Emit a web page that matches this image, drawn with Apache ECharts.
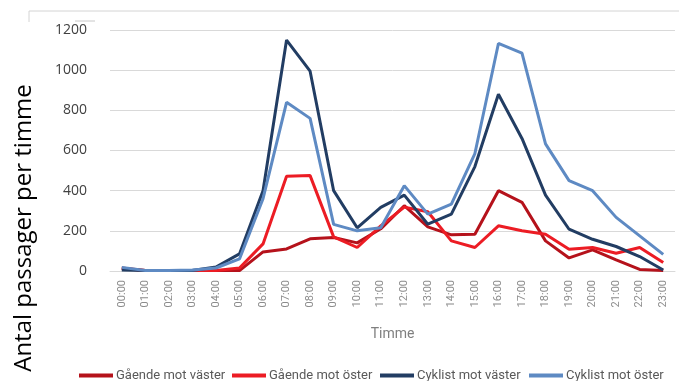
<!DOCTYPE html>
<html>
<head>
<meta charset="utf-8">
<script src="https://cdn.jsdelivr.net/npm/echarts@6/dist/echarts.min.js"></script>
<style>
  html, body { margin: 0; padding: 0; background: #fff; }
  #chart { width: 679px; height: 381px; }
</style>
</head>
<body>
<div id="chart"></div>
<script>
// Hourly passages, counted per direction
const hours = ['00:00','01:00','02:00','03:00','04:00','05:00','06:00','07:00','08:00','09:00','10:00','11:00',
               '12:00','13:00','14:00','15:00','16:00','17:00','18:00','19:00','20:00','21:00','22:00','23:00'];
const gaendeVaster = [15, 2, 2, 2, 2, 2, 95, 110, 160, 167, 140, 210, 325, 220, 180, 183, 400, 342, 150, 65, 105, 55, 8, 2];
const gaendeOster  = [12, 2, 2, 2, 2, 15, 135, 472, 475, 170, 117, 225, 318, 295, 150, 117, 225, 200, 183, 108, 117, 88, 117, 42];
const cyklistVaster = [5, 2, 2, 3, 20, 85, 400, 1150, 995, 400, 215, 317, 378, 233, 283, 520, 880, 660, 378, 208, 158, 122, 72, 5];
const cyklistOster  = [18, 3, 3, 5, 15, 60, 360, 840, 760, 232, 200, 215, 425, 283, 333, 585, 1133, 1085, 633, 450, 400, 267, 175, 83];
const yTicks = [0, 200, 400, 600, 800, 1000, 1200];

const seriesNames = ['Gående mot väster', 'Gående mot öster', 'Cyklist mot väster', 'Cyklist mot öster'];
const seriesData = [gaendeVaster, gaendeOster, cyklistVaster, cyklistOster];
const colors = ['#B5121B', '#EC1C24', '#223D63', '#5E8AC3'];

const narrow = "'Roboto', sans-serif";
const legendLeft = [74, 227, 375, 524];

const chart = echarts.init(document.getElementById('chart'), null, { renderer: 'canvas' });
chart.setOption({
  animation: false,
  color: colors,
  grid: { left: 110, right: 4, top: 30, bottom: 110 },
  legend: seriesNames.map((n, i) => ({
    data: [n],
    left: legendLeft[i],
    top: 364,
    icon: 'rect',
    itemWidth: 34,
    itemHeight: 4,
    itemGap: 0,
    textStyle: { fontFamily: narrow, fontSize: 13, color: '#595959', padding: [0, 0, 0, -2] }
  })),
  xAxis: {
    type: 'category',
    data: hours,
    boundaryGap: true,
    name: 'Timme',
    nameLocation: 'middle',
    nameGap: 56,
    nameTextStyle: { fontFamily: narrow, fontSize: 14, color: '#7F7F7F' },
    axisLine: { show: true, lineStyle: { color: '#D9D9D9', width: 1 } },
    axisTick: { show: false },
    axisLabel: { rotate: 90, interval: 0, margin: 9, fontFamily: narrow, fontSize: 11, color: '#8C8C8C' }
  },
  yAxis: {
    type: 'value',
    min: yTicks[0],
    max: yTicks[yTicks.length - 1],
    interval: 200,
    axisLine: { show: false },
    axisTick: { show: false },
    splitLine: { lineStyle: { color: '#D9D9D9', width: 1 } },
    axisLabel: {
      margin: 23,
      fontFamily: "'Open Sans', sans-serif",
      fontSize: 14,
      color: '#404040',
      formatter: v => String(v)
    }
  },
  series: seriesNames.map((n, i) => ({
    name: n,
    type: 'line',
    data: seriesData[i],
    symbol: 'none',
    lineStyle: { width: 3, color: colors[i] },
    itemStyle: { color: colors[i] }
  })),
  graphic: [
    {
      type: 'polyline',
      shape: { points: [[29, 22], [29, 11], [679, 11]] },
      style: { stroke: '#D4D4D4', lineWidth: 1, fill: null },
      silent: true
    },
    {
      type: 'line',
      shape: { x1: 75, y1: 21, x2: 95, y2: 21 },
      style: { stroke: '#C8C8C8', lineWidth: 1 },
      silent: true
    },
    {
      type: 'text',
      x: 24,
      y: 228,
      rotation: Math.PI / 2,
      style: {
        text: 'Antal passager per timme',
        font: "24px 'Open Sans', sans-serif",
        fill: '#000',
        textAlign: 'center',
        textVerticalAlign: 'middle'
      }
    }
  ]
});
</script>
</body>
</html>
